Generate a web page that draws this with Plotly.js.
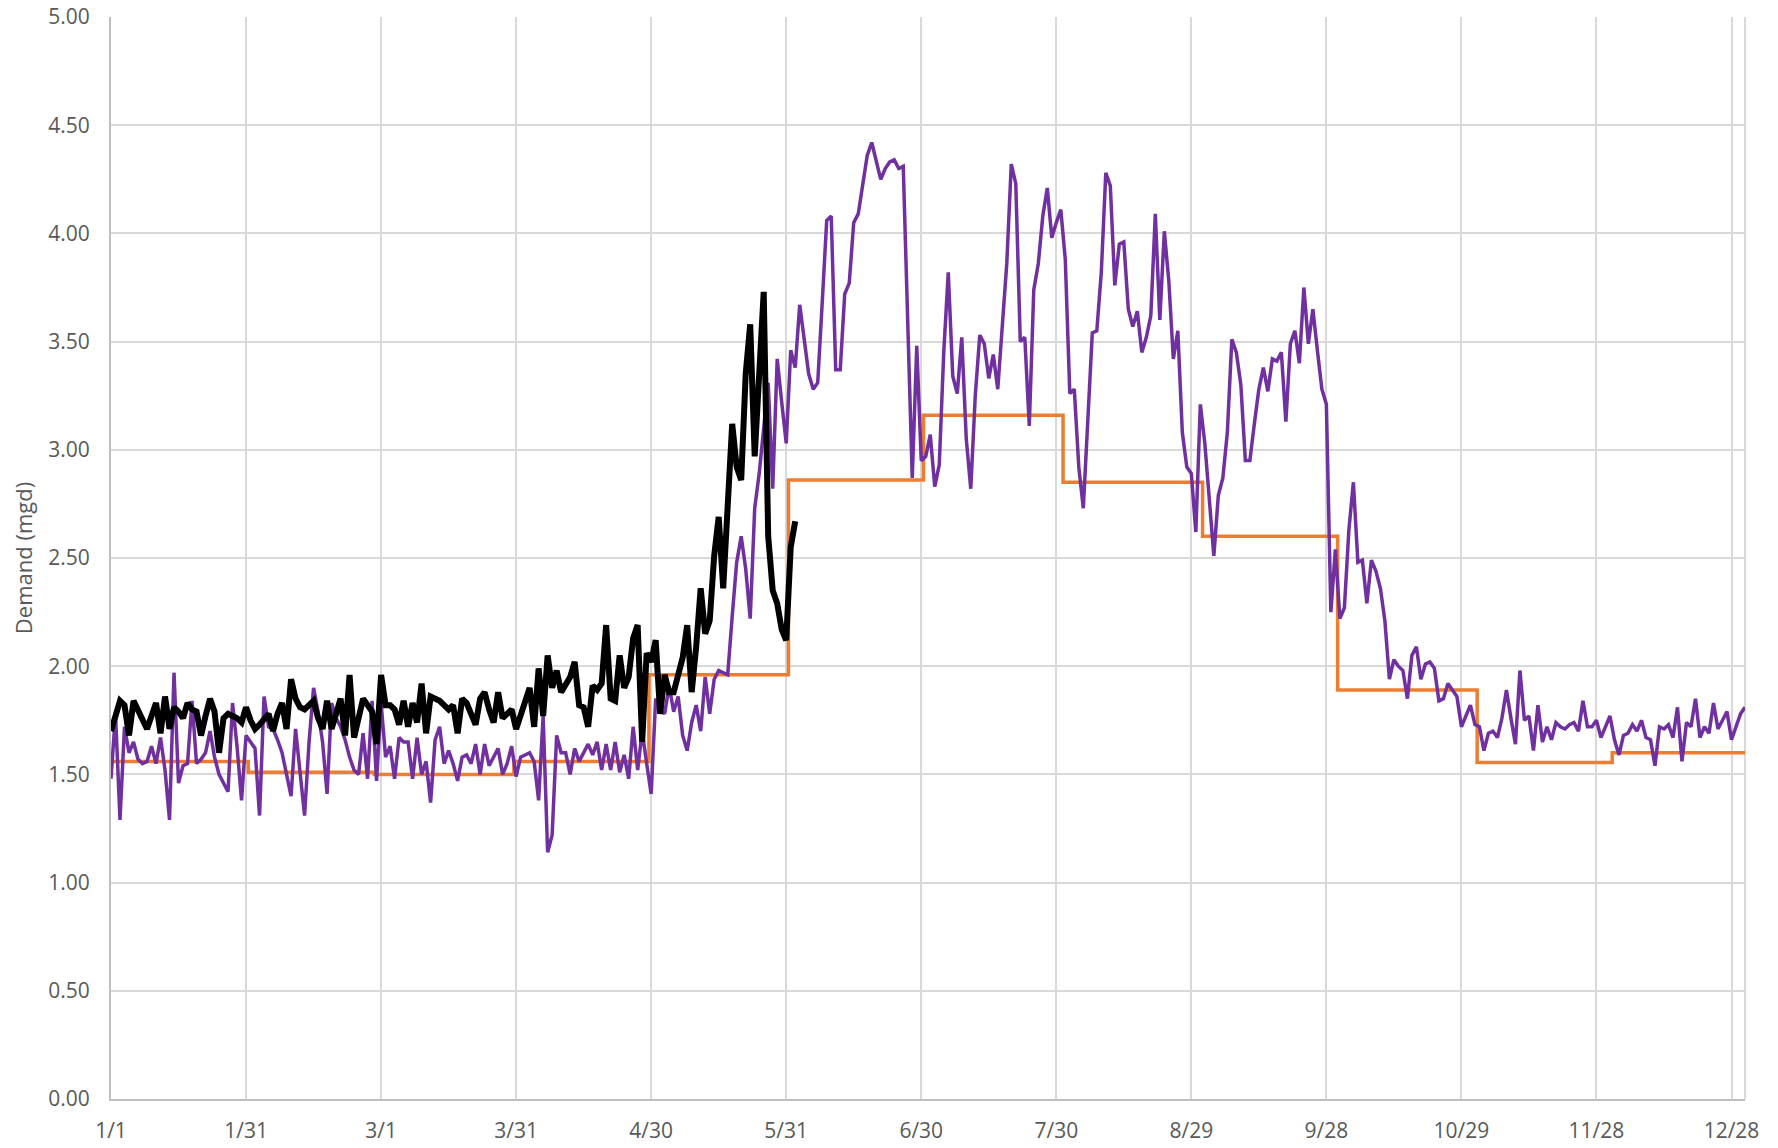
<!DOCTYPE html>
<html>
<head>
<meta charset="utf-8">
<script src="https://cdn.plot.ly/plotly-3.0.1.min.js"></script>
<style>
  html, body { margin: 0; padding: 0; background: #ffffff; }
  #chart { width: 1778px; height: 1148px; }
</style>
</head>
<body>
<div id="chart"></div>
<script>
// ---- Data ----
const tickLabels = ["1/1","1/31","3/1","3/31","4/30","5/31","6/30","7/30","8/29","9/28","10/29","11/28","12/28"];
const tickIndex = [0,30,60,90,120,150,180,210,240,270,300,330,360];

// Previous-year daily demand (purple), one value per category 0..363
const priorYearDemand = [
1.48,1.78,1.29,1.72,1.60,1.65,1.57,1.55,1.56,1.63,
1.55,1.67,1.52,1.29,1.97,1.46,1.54,1.55,1.84,1.55,
1.57,1.60,1.70,1.58,1.50,1.46,1.42,1.83,1.63,1.38,
1.68,1.65,1.62,1.31,1.86,1.72,1.71,1.66,1.60,1.50,
1.40,1.71,1.50,1.31,1.65,1.90,1.79,1.65,1.41,1.83,
1.76,1.72,1.66,1.58,1.52,1.50,1.69,1.48,1.84,1.47,
1.83,1.58,1.63,1.48,1.67,1.65,1.65,1.48,1.67,1.50,
1.56,1.37,1.66,1.72,1.55,1.61,1.55,1.47,1.58,1.59,
1.55,1.64,1.50,1.64,1.54,1.58,1.62,1.50,1.55,1.63,
1.49,1.58,1.59,1.60,1.56,1.38,1.77,1.14,1.22,1.68,
1.60,1.60,1.50,1.62,1.56,1.60,1.64,1.59,1.65,1.52,
1.64,1.52,1.65,1.51,1.59,1.48,1.72,1.52,1.70,1.55,
1.41,1.85,1.80,1.78,1.91,1.79,1.86,1.68,1.61,1.74,
1.82,1.70,1.95,1.78,1.94,1.98,1.97,1.96,2.23,2.48,
2.60,2.45,2.22,2.73,2.89,3.11,3.31,2.82,3.42,3.22,
3.03,3.46,3.38,3.67,3.50,3.35,3.28,3.31,3.68,4.06,
4.08,3.37,3.37,3.72,3.77,4.05,4.09,4.22,4.36,4.42,
4.33,4.25,4.30,4.33,4.34,4.30,4.31,3.60,2.87,3.48,
2.95,2.97,3.07,2.83,2.93,3.45,3.82,3.34,3.26,3.52,
3.05,2.82,3.25,3.53,3.49,3.33,3.44,3.28,3.58,3.86,
4.32,4.23,3.50,3.52,3.11,3.74,3.86,4.08,4.21,3.98,
4.05,4.11,3.88,3.26,3.28,2.92,2.73,3.11,3.54,3.55,
3.82,4.28,4.22,3.76,3.95,3.96,3.65,3.57,3.64,3.45,
3.52,3.62,4.09,3.60,4.01,3.78,3.42,3.55,3.08,2.92,
2.89,2.62,3.21,3.03,2.77,2.51,2.79,2.87,3.08,3.51,
3.45,3.30,2.95,2.95,3.12,3.28,3.38,3.27,3.42,3.41,
3.45,3.13,3.49,3.55,3.40,3.75,3.49,3.65,3.46,3.28,
3.21,2.25,2.54,2.22,2.27,2.63,2.85,2.48,2.49,2.29,
2.49,2.44,2.36,2.21,1.94,2.03,2.00,1.98,1.85,2.05,
2.09,1.94,2.01,2.02,1.99,1.84,1.85,1.92,1.89,1.86,
1.72,1.77,1.82,1.73,1.72,1.61,1.69,1.70,1.67,1.76,
1.89,1.76,1.64,1.98,1.75,1.77,1.61,1.82,1.65,1.72,
1.66,1.74,1.72,1.71,1.73,1.74,1.70,1.84,1.72,1.72,
1.75,1.67,1.72,1.77,1.66,1.59,1.68,1.69,1.73,1.70,
1.75,1.67,1.66,1.54,1.72,1.71,1.73,1.67,1.81,1.56,
1.74,1.72,1.85,1.67,1.72,1.69,1.83,1.71,1.75,1.79,
1.66,1.72,1.78,1.81
];

// Current-year daily demand (black), categories 0..152
const currentYearDemand = [
1.70,1.78,1.84,1.82,1.68,1.84,1.80,1.76,1.71,1.77,
1.83,1.69,1.86,1.71,1.81,1.79,1.76,1.83,1.80,1.79,
1.68,1.77,1.85,1.79,1.60,1.76,1.78,1.77,1.76,1.74,
1.81,1.75,1.71,1.73,1.76,1.78,1.70,1.78,1.83,1.71,
1.94,1.85,1.81,1.80,1.82,1.84,1.76,1.71,1.84,1.71,
1.78,1.85,1.68,1.96,1.67,1.76,1.85,1.82,1.79,1.64,
1.96,1.82,1.82,1.80,1.73,1.84,1.72,1.83,1.74,1.92,
1.69,1.86,1.85,1.84,1.82,1.80,1.82,1.69,1.85,1.83,
1.78,1.73,1.85,1.88,1.80,1.74,1.88,1.76,1.78,1.80,
1.71,1.78,1.85,1.90,1.72,1.99,1.77,2.05,1.90,1.98,
1.88,1.92,1.95,2.02,1.82,1.81,1.72,1.91,1.89,1.92,
2.19,1.85,1.84,2.05,1.90,1.95,2.13,2.19,1.65,2.06,
2.02,2.12,1.78,1.96,1.88,1.88,1.95,2.04,2.19,1.88,
2.09,2.36,2.15,2.21,2.51,2.69,2.36,2.72,3.12,2.92,
2.86,3.35,3.58,2.97,3.38,3.73,2.60,2.35,2.29,2.17,
2.12,2.55,2.67
];

// Monthly average demand (orange step line)
const monthlyAverage = [1.56, 1.51, 1.50, 1.56, 1.96, 2.86, 3.16, 2.85, 2.60, 1.89, 1.555, 1.60];
const monthLengthDays = [31, 28, 31, 30, 31, 30, 31, 31, 30, 31, 30, 30];

// ---- Build traces ----
const purpleX = priorYearDemand.map((_, i) => i);
const blackX = currentYearDemand.map((_, i) => i);
const avgDaily = [];
monthlyAverage.forEach((v, m) => { for (let k = 0; k < monthLengthDays[m]; k++) avgDaily.push(v); });
const avgX = avgDaily.map((_, i) => i);

const traces = [
  { x: avgX, y: avgDaily, type: 'scatter', mode: 'lines', name: 'Monthly Average',
    line: { color: '#ED7D31', width: 3.5, shape: 'hvh' }, hoverinfo: 'skip' },
  { x: purpleX, y: priorYearDemand, type: 'scatter', mode: 'lines', name: 'Prior Year',
    line: { color: '#7030A0', width: 3.5 }, hoverinfo: 'skip' },
  { x: blackX, y: currentYearDemand, type: 'scatter', mode: 'lines', name: 'Current Year',
    line: { color: '#000000', width: 6 }, hoverinfo: 'skip' }
];

const textFont = 'Open Sans, Noto Sans, sans-serif';

const layout = {
  width: 1778, height: 1148,
  margin: { l: 111, r: 33, t: 17, b: 49 },
  paper_bgcolor: '#ffffff', plot_bgcolor: '#ffffff',
  showlegend: false,
  xaxis: {
    range: [0, 363], tickmode: 'array', tickvals: tickIndex, ticktext: tickLabels,
    showgrid: true, gridcolor: '#d9d9d9', gridwidth: 2,
    showline: true, linecolor: '#bfbfbf', linewidth: 2,
    zeroline: false, ticks: '', ticklabelstandoff: 12,
    tickfont: { family: textFont, size: 21, color: '#595959' }
  },
  yaxis: {
    range: [0, 5], dtick: 0.5, tickformat: '.2f',
    showgrid: true, gridcolor: '#d9d9d9', gridwidth: 2,
    showline: true, linecolor: '#bfbfbf', linewidth: 2,
    zeroline: false, ticks: '', ticklabelstandoff: 15,
    tickfont: { family: textFont, size: 21, color: '#595959' },
    title: { text: 'Demand (mgd)', standoff: 10,
      font: { family: textFont, size: 22, color: '#595959' } }
  },
  shapes: [
    { type: 'line', xref: 'paper', yref: 'paper', x0: 1, x1: 1, y0: 0, y1: 1,
      line: { color: '#d9d9d9', width: 2 }, layer: 'below' }
  ]
};

Plotly.newPlot('chart', traces, layout, { displayModeBar: false, staticPlot: true });
</script>
</body>
</html>
